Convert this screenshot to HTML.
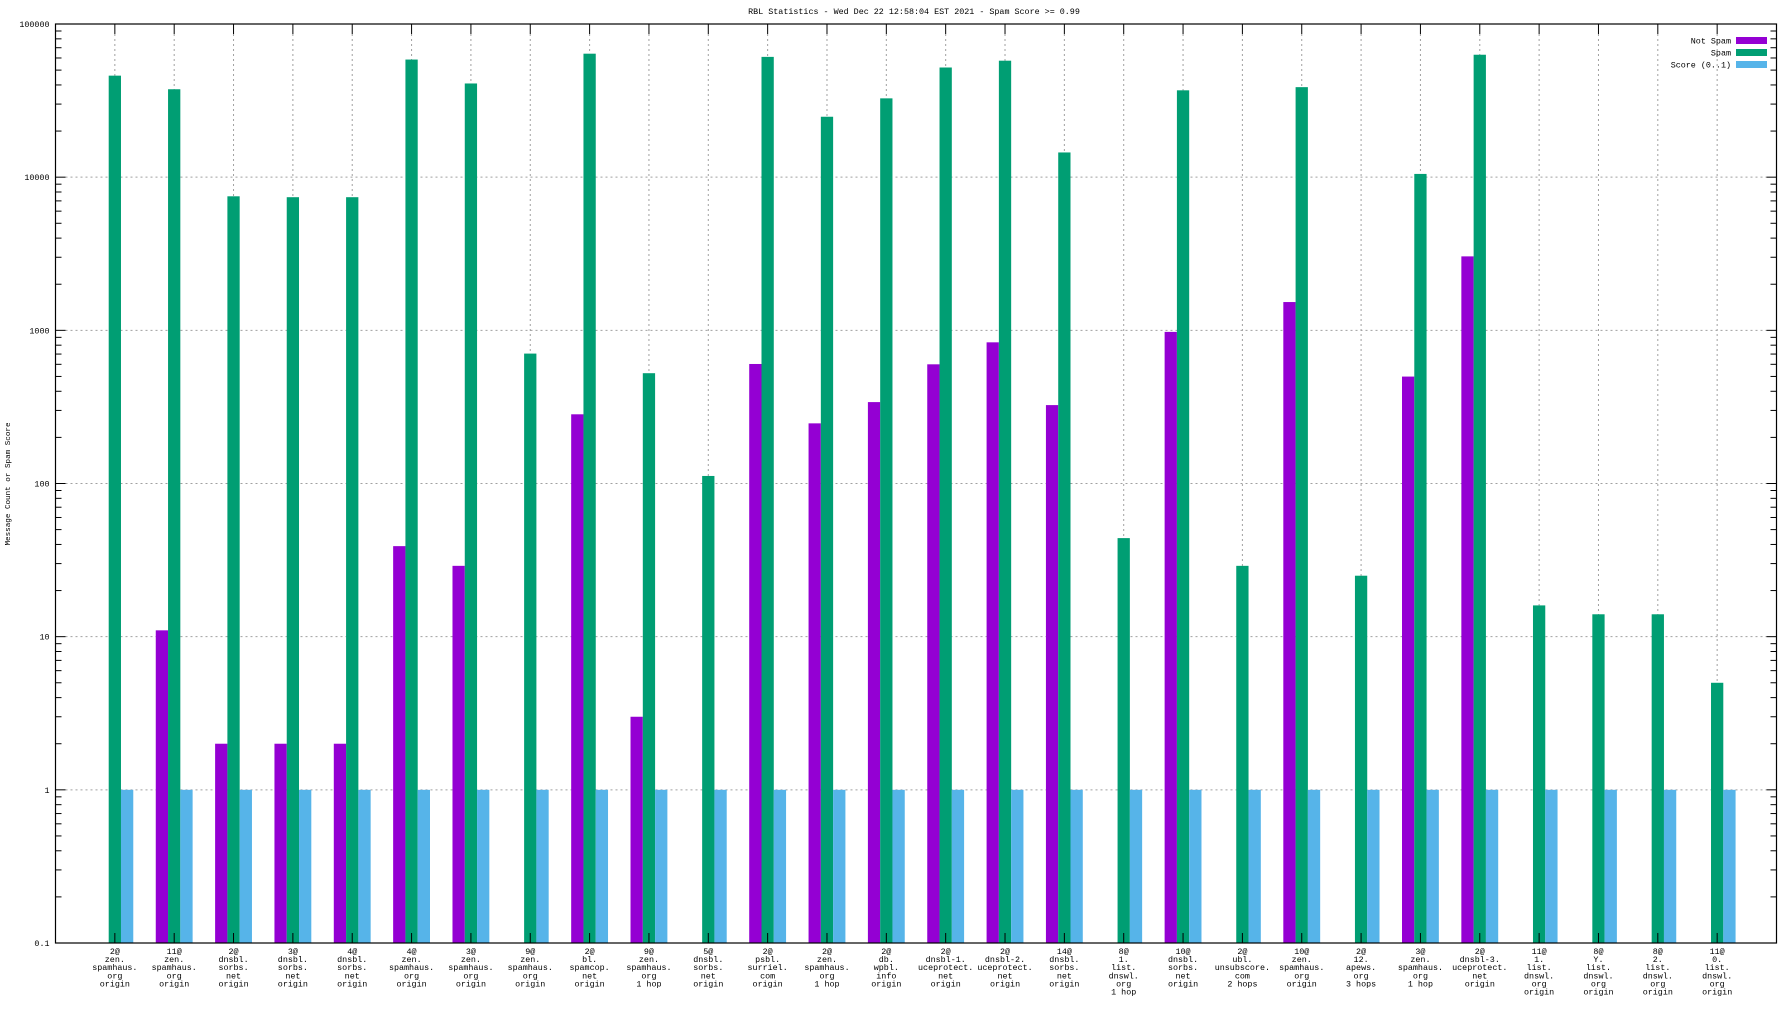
<!DOCTYPE html>
<html><head><meta charset="utf-8"><style>
html,body{margin:0;padding:0;background:#fff;}
svg text{font-family:"Liberation Mono","DejaVu Sans Mono",monospace;font-size:8.4px;fill:#000;}
</style></head><body>
<svg id="chart" width="1792" height="1008" viewBox="0 0 1792 1008" xmlns="http://www.w3.org/2000/svg">
<rect width="1792" height="1008" fill="#fff"/>
<text x="914" y="14" text-anchor="middle">RBL Statistics - Wed Dec 22 12:58:04 EST 2021 - Spam Score &gt;= 0.99</text>
<text transform="translate(10,484) rotate(-90)" text-anchor="middle" style="font-size:7.6px">Message Count or Spam Score</text>
<g id="grid"></g><g id="bars"></g><g id="axes"></g><g id="labels"></g><g id="legend"></g>
</svg>
<script>
const categories = [
 ["2@","zen.","spamhaus.","org","origin"],
 ["11@","zen.","spamhaus.","org","origin"],
 ["2@","dnsbl.","sorbs.","net","origin"],
 ["3@","dnsbl.","sorbs.","net","origin"],
 ["4@","dnsbl.","sorbs.","net","origin"],
 ["4@","zen.","spamhaus.","org","origin"],
 ["3@","zen.","spamhaus.","org","origin"],
 ["9@","zen.","spamhaus.","org","origin"],
 ["2@","bl.","spamcop.","net","origin"],
 ["9@","zen.","spamhaus.","org","1 hop"],
 ["5@","dnsbl.","sorbs.","net","origin"],
 ["2@","psbl.","surriel.","com","origin"],
 ["2@","zen.","spamhaus.","org","1 hop"],
 ["2@","db.","wpbl.","info","origin"],
 ["2@","dnsbl-1.","uceprotect.","net","origin"],
 ["2@","dnsbl-2.","uceprotect.","net","origin"],
 ["14@","dnsbl.","sorbs.","net","origin"],
 ["8@","1.","list.","dnswl.","org","1 hop"],
 ["10@","dnsbl.","sorbs.","net","origin"],
 ["2@","ubl.","unsubscore.","com","2 hops"],
 ["10@","zen.","spamhaus.","org","origin"],
 ["2@","12.","apews.","org","3 hops"],
 ["3@","zen.","spamhaus.","org","1 hop"],
 ["2@","dnsbl-3.","uceprotect.","net","origin"],
 ["11@","1.","list.","dnswl.","org","origin"],
 ["8@","Y.","list.","dnswl.","org","origin"],
 ["8@","2.","list.","dnswl.","org","origin"],
 ["11@","0.","list.","dnswl.","org","origin"]
];
const notSpam = [0,11,2,2,2,39,29,0,283,3,0,603,247,340,600,835,325,0,977,0,1530,0,499,3040,0,0,0,0];
const spam = [46000,37500,7500,7400,7400,58600,40900,705,64000,525,112,61000,24800,32700,52000,57600,14500,44,36900,29,38700,25,10500,63000,16,14,14,5];
const score = [1,1,1,1,1,1,1,1,1,1,1,1,1,1,1,1,1,1,1,1,1,1,1,1,1,1,1,1];
const yTicks = [0.1,1,10,100,1000,10000,100000];
const yTickLabels = ["0.1","1","10","100","1000","10000","100000"];

const NS="http://www.w3.org/2000/svg";
const L=55.5,R=1776.5,T=24,B=943;
const xStep=(R-L)/(categories.length+1);
function xs(i){return L+(i+1)*xStep;}
function ys(v){return B-(Math.log10(v)+1)*(B-T)/6;}
function mk(tag,attrs,parent){const e=document.createElementNS(NS,tag);for(const k in attrs)e.setAttribute(k,attrs[k]);parent.appendChild(e);return e;}
const grid=document.getElementById('grid'),bars=document.getElementById('bars'),axes=document.getElementById('axes'),labels=document.getElementById('labels'),legend=document.getElementById('legend');
const gs={stroke:"#a0a0a0","stroke-width":1,"stroke-dasharray":"2,3"};
// horizontal grid
yTicks.forEach((v,k)=>{
 const y=ys(v);
 if(k>0&&k<yTicks.length-1){const g=mk('line',Object.assign({x1:L+10,x2:R-10,y1:y,y2:y},gs),grid);
 
 }
 const t=mk('text',{x:L-6,y:y+3,'text-anchor':'end'},labels);t.textContent=yTickLabels[k];
 
 
 mk('line',{x1:L,x2:L+10,y1:y,y2:y,stroke:"#000"},axes);
 mk('line',{x1:R-10,x2:R,y1:y,y2:y,stroke:"#000"},axes);
 if(k<yTicks.length-1){for(let m=2;m<10;m++){const ym=ys(v*m);
  mk('line',{x1:L,x2:L+6,y1:ym,y2:ym,stroke:"#000"},axes);
  mk('line',{x1:R-6,x2:R,y1:ym,y2:ym,stroke:"#000"},axes);}}
});
// vertical grid + labels
const bw=xStep*0.207;
categories.forEach((c,i)=>{
 const x=xs(i);
 const g=mk('line',Object.assign({x1:x,x2:x,y1:T+10,y2:B-10},gs),grid);
 
 
 mk('line',{x1:x,x2:x,y1:T,y2:T+10,stroke:"#000"},axes);
 mk('line',{x1:x,x2:x,y1:B-10,y2:B,stroke:"#000"},axes);
 const t=mk('text',{x:x,y:954,'text-anchor':'middle'},labels);
 
 
 c.forEach((line,j)=>{const ts=mk('tspan',{x:x,dy:j?8.1:0},t);ts.textContent=line;});
 const series=[[notSpam,"#9400d3",-1.5,'bar-not-spam'],[spam,"#009e73",-0.5,'bar-spam'],[score,"#56b4e9",0.5,'bar-score']];
 series.forEach(s=>{const v=s[0][i];if(!(v>0))return;
  const y=ys(v);const r=mk('rect',{x:x+s[2]*bw,y:y,width:bw,height:B-y,fill:s[1]},bars);
  
  });
});
// frame
const f=mk('rect',{x:L,y:T,width:R-L,height:B-T,fill:"none",stroke:"#000","stroke-width":1.2},axes);


// legend
const leg=[["Not Spam","#9400d3",40.5],["Spam","#009e73",52.5],["Score (0..1)","#56b4e9",64.5]];
leg.forEach(l=>{
 const g=mk('g',{},legend);
 
 
 const t=mk('text',{x:1731,y:l[2]+3,'text-anchor':'end'},g);t.textContent=l[0];
 mk('rect',{x:1736,y:l[2]-3.5,width:31,height:7,fill:l[1]},g);
});
</script>
</body></html>
